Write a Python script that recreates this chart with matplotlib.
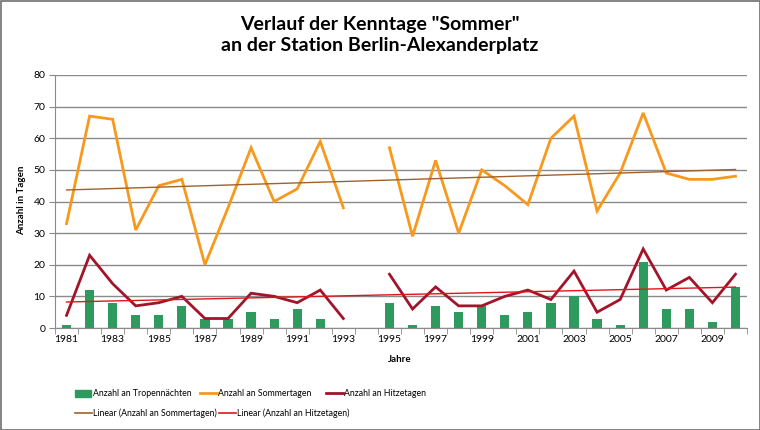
import numpy as np
import matplotlib
matplotlib.use("Agg")
import matplotlib.pyplot as plt
from matplotlib.patches import Rectangle
from matplotlib.lines import Line2D

plt.rcParams['font.family'] = ['Lato', 'DejaVu Sans']

years = list(range(1981, 2011))
nan = np.nan
tropennaechte = [1, 12, 8, 4, 4, 7, 3, 3, 5, 3, 6, 3, 0, nan, 8, 1, 7, 5, 7, 4,
                 5, 8, 10, 3, 1, 21, 6, 6, 2, 13]
sommertage = [33, 67, 66, 31, 45, 47, 20, 38, 57, 40, 44, 59, 38, nan, 57, 29, 53, 30, 50, 45,
              39, 60, 67, 37, 49, 68, 49, 47, 47, 48]
hitzetage = [4, 23, 14, 7, 8, 10, 3, 3, 11, 10, 8, 12, 3, nan, 17, 6, 13, 7, 7, 10,
             12, 9, 18, 5, 9, 25, 12, 16, 8, 17]

title = 'Verlauf der Kenntage "Sommer"\nan der Station Berlin-Alexanderplatz'
ylabel = "Anzahl in Tagen"
xlabel = "Jahre"
legend_labels = ["Anzahl an Tropennächten", "Anzahl an Sommertagen", "Anzahl an Hitzetagen",
                 "Linear (Anzahl an Sommertagen)", "Linear (Anzahl an Hitzetagen)"]

c_bar = "#2e9a5e"
c_som = "#f7991c"
c_hit = "#a2142a"
c_som_lin = "#a0622d"
c_hit_lin = "#e0161e"

x = np.arange(1, len(years) + 1)

def trend(vals):
    v = np.array(vals, dtype=float)
    m = ~np.isnan(v)
    p = np.polyfit(x[m], v[m], 1)
    return np.polyval(p, x)

W, H = 760, 430
fig = plt.figure(figsize=(7.6, 4.3), dpi=100)
ax = fig.add_axes([55/W, 102/H, 692/W, 253/H])

ax.bar(x, tropennaechte, width=0.4, color=c_bar, zorder=3)
ax.plot(x, sommertage, color=c_som, lw=2.0, zorder=4, solid_joinstyle='miter')
ax.plot(x, hitzetage, color=c_hit, lw=2.0, zorder=4, solid_joinstyle='miter')
ax.plot(x, trend(sommertage), color=c_som_lin, lw=1.0, zorder=5)
ax.plot(x, trend(hitzetage), color=c_hit_lin, lw=1.0, zorder=5)

ax.set_xlim(0.5, len(years) + 0.5)
ax.set_ylim(0, 80)
ax.set_yticks(range(0, 81, 10))
ax.yaxis.grid(True, color="#8a8a8a", lw=1.0, zorder=0)
ax.set_axisbelow(True)

ax.set_xticks(x[::2])
ax.set_xticklabels([str(y) for y in years[::2]], fontsize=7.5)
ax.set_xticks(np.arange(0.5, len(years) + 1.0, 1.0), minor=True)
ax.tick_params(axis='x', which='major', length=0, pad=5)
ax.tick_params(axis='x', which='minor', length=4, color="#8a8a8a", direction='out')
ax.tick_params(axis='y', labelsize=7.5, length=4, color="#8a8a8a", pad=3)

for s in ['top', 'right']:
    ax.spines[s].set_visible(False)
for s in ['left', 'bottom']:
    ax.spines[s].set_color("#8a8a8a")

fig.text(380/W, 1 - 35/H, title, ha='center', va='center', fontsize=14,
         fontweight='bold', linespacing=1.3)
fig.text(22/W, 1 - 200/H, ylabel, rotation=90, ha='center', va='center',
         fontsize=7, fontweight='bold')
fig.text(400/W, 1 - 359/H, xlabel, ha='center', va='center',
         fontsize=7, fontweight='bold')

# legend: two rows, column starts at 75 / 200 / 326 px, shifted right if text is wider
renderer = fig.canvas.get_renderer()
rows = [
    [("bar", c_bar, 2.0, legend_labels[0]),
     ("line", c_som, 2.0, legend_labels[1]),
     ("line", c_hit, 2.0, legend_labels[2])],
    [("line", c_som_lin, 1.2, legend_labels[3]),
     ("line", c_hit_lin, 1.2, legend_labels[4])],
]
col_starts = [75, 200, 326]
row_ys = [393, 413]
for row, py in zip(rows, row_ys):
    prev_end = 0
    for (kind, col, lw, lab), nominal in zip(row, col_starts):
        px = max(nominal, prev_end + 2)
        if kind == "bar":
            fig.patches.append(Rectangle((px/W, 1 - (py + 3.5)/H), 16/W, 7/H,
                                         transform=fig.transFigure, color=col))
        else:
            fig.lines.append(Line2D([px/W, (px + 17)/W], [1 - py/H, 1 - py/H],
                                    transform=fig.transFigure, color=col, lw=lw))
        t = fig.text((px + 18)/W, 1 - py/H, lab, ha='left', va='center', fontsize=6.3)
        prev_end = t.get_window_extent(renderer).x1

fig.patches.append(Rectangle((0.5/W, 0.5/H), 1 - 1/W, 1 - 1/H,
                             transform=fig.transFigure, fill=False,
                             edgecolor="#6e6e6e", lw=1.2))

fig.savefig("out.png", dpi=100)
